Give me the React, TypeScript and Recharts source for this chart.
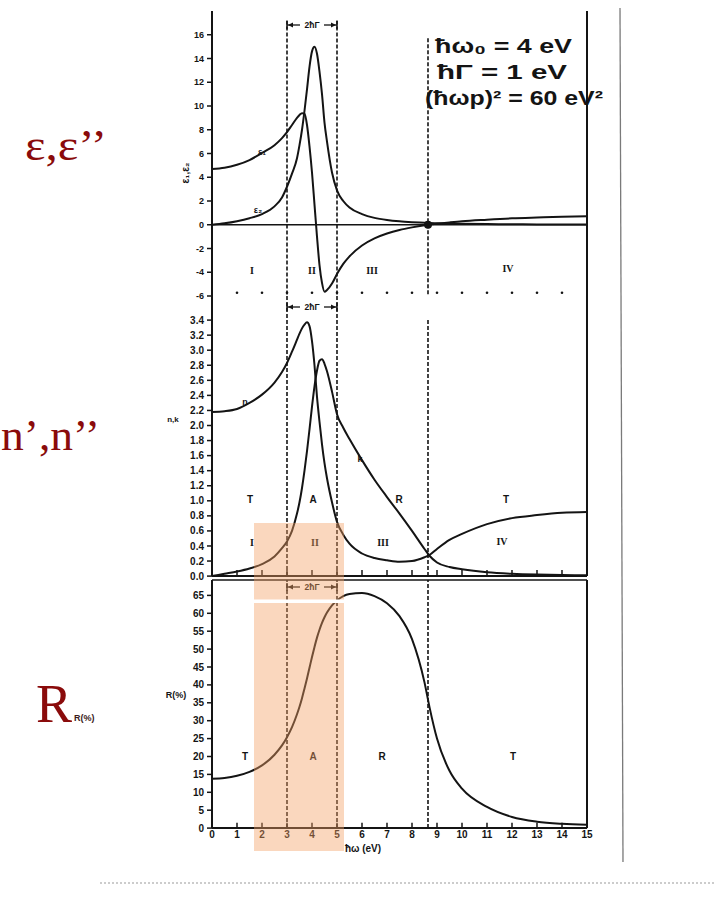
import React from 'react';
import { LineChart, Line, XAxis, YAxis, ReferenceLine, ReferenceDot } from 'recharts';

// photon energy ħω (eV)
const energy = [0, 0.5, 1, 1.5, 2, 2.5, 2.8, 3, 3.2, 3.4, 3.5, 3.6, 3.7, 3.8, 3.9, 4, 4.1, 4.2, 4.3, 4.4, 4.5, 4.6, 4.8, 5, 5.25, 5.5, 6, 6.5, 7, 7.5, 8, 8.5, 8.7, 9, 9.5, 10, 11, 12, 13, 14, 15];
// ε1 (real part)
const eps1 = [4.7, 4.8, 5.05, 5.45, 6.05, 6.7, 7.3, 7.8, 8.4, 9.0, 9.25, 9.4, 9.35, 8.4, 6.6, 4.4, 1.7, -1.0, -3.4, -4.9, -5.65, -5.5, -4.95, -4.15, -3.3, -2.66, -1.75, -1.15, -0.74, -0.44, -0.22, -0.04, 0.02, 0.09, 0.2, 0.3, 0.43, 0.54, 0.61, 0.67, 0.71];
// ε2 (imaginary part)
const eps2 = [0, 0.12, 0.3, 0.55, 0.9, 1.55, 2.3, 3.2, 4.3, 5.6, 6.7, 8.0, 9.6, 11.4, 13.3, 14.6, 15.0, 14.4, 12.9, 11.0, 8.6, 7.0, 4.4, 2.9, 2.0, 1.45, 0.9, 0.58, 0.4, 0.29, 0.22, 0.17, 0.15, 0.13, 0.1, 0.08, 0.06, 0.04, 0.03, 0.03, 0.02];
// refractive index n
const nIdx = [2.18, 2.19, 2.22, 2.3, 2.41, 2.57, 2.71, 2.83, 2.98, 3.14, 3.22, 3.29, 3.34, 3.37, 3.32, 3.12, 2.8, 2.38, 2.05, 1.75, 1.5, 1.3, 0.98, 0.72, 0.55, 0.43, 0.3, 0.24, 0.21, 0.19, 0.2, 0.25, 0.28, 0.36, 0.48, 0.56, 0.69, 0.77, 0.81, 0.84, 0.85];
// extinction coefficient k
const kIdx = [0, 0.03, 0.06, 0.1, 0.16, 0.26, 0.37, 0.46, 0.6, 0.83, 0.98, 1.17, 1.4, 1.66, 1.95, 2.25, 2.52, 2.73, 2.86, 2.88, 2.82, 2.72, 2.45, 2.15, 1.97, 1.82, 1.54, 1.28, 1.05, 0.83, 0.6, 0.36, 0.27, 0.18, 0.12, 0.09, 0.05, 0.03, 0.02, 0.015, 0.01];
// reflectivity R (%)
const reflect = [13.8, 14.0, 14.6, 15.7, 17.5, 20.5, 23.1, 25.4, 28.2, 31.8, 33.9, 36.3, 39.0, 41.8, 44.8, 47.8, 50.6, 53.2, 55.4, 57.3, 58.9, 60.2, 62.2, 63.6, 64.8, 65.4, 65.7, 64.8, 62.8, 59.2, 52.8, 40.7, 33.8, 25.0, 16.0, 11.0, 5.9, 3.1, 1.8, 1.2, 0.9];

const topTicks = [-6, -4, -2, 0, 2, 4, 6, 8, 10, 12, 14, 16];
const midTicks = [0, 0.2, 0.4, 0.6, 0.8, 1.0, 1.2, 1.4, 1.6, 1.8, 2.0, 2.2, 2.4, 2.6, 2.8, 3.0, 3.2, 3.4];
const botTicks = [0, 5, 10, 15, 20, 25, 30, 35, 40, 45, 50, 55, 60, 65];
const xTicks = [0, 1, 2, 3, 4, 5, 6, 7, 8, 9, 10, 11, 12, 13, 14, 15];
const dotTicks = [1, 2, 3, 4, 5, 6, 7, 8, 9, 10, 11, 12, 13, 14];
const bandLo = 3;
const bandHi = 5;
const zeroCross = 8.64;

const data = energy.map((e, i) => ({ e, eps1: eps1[i], eps2: eps2[i], n: nIdx[i], k: kIdx[i], R: reflect[i] }));

const INK = '#141414';
const SANS = '"Liberation Sans", Arial, sans-serif';
const SERIF = '"Liberation Serif", "Times New Roman", serif';
const RED = '#8a0b0b';
const CW = 620;
const PAD = 8;
const MARGIN = { top: PAD, right: 33, bottom: PAD, left: 172 };
const X = (e: number) => 212 + 25 * e;

const tickStyle = { fontSize: 9, fontWeight: 700, fill: INK, fontFamily: SANS };
const tickStyle10 = { ...tickStyle, fontSize: 10 };
const dash = { stroke: INK, strokeWidth: 1.6, strokeDasharray: '4 2' };

function GammaBar({ y }: { y: number }) {
  const a = X(bandLo);
  const b = X(bandHi);
  const m = X((bandLo + bandHi) / 2);
  return (
    <g stroke={INK} fill={INK}>
      <line x1={a} y1={y - 4} x2={a} y2={y + 4} strokeWidth={1.5} />
      <line x1={b} y1={y - 4} x2={b} y2={y + 4} strokeWidth={1.5} />
      <line x1={a} y1={y} x2={m - 12} y2={y} strokeWidth={1.3} />
      <line x1={m + 12} y1={y} x2={b} y2={y} strokeWidth={1.3} />
      <path d={`M${a + 1},${y} l5,-2.5 l0,5 z`} stroke="none" />
      <path d={`M${b - 1},${y} l-5,-2.5 l0,5 z`} stroke="none" />
      <text x={m} y={y + 3} textAnchor="middle" fontSize={8.5} fontWeight={700} fontFamily={SANS} stroke="none">2ħΓ</text>
    </g>
  );
}

function Label({ x, y, t, size = 10, serif = false }: { x: number; y: number; t: string; size?: number; serif?: boolean }) {
  return (
    <text x={x} y={y} textAnchor="middle" dominantBaseline="central" fontSize={size} fontWeight={700}
      fontFamily={serif ? SERIF : SANS} fill={INK}>{t}</text>
  );
}

export default function App() {
  const topPlot = [11.25, 296.25];
  const midPlot = [295.9, 576];
  const botPlot = [579.6, 827.7];
  return (
    <div style={{ position: 'absolute', left: 0, top: 0, width: 714, height: 905, background: '#fff', overflow: 'hidden' }}>
      {/* Top panel: ε1, ε2 */}
      <div style={{ position: 'absolute', left: 0, top: topPlot[0] - PAD }}>
        <LineChart width={CW} height={topPlot[1] - topPlot[0] + 2 * PAD} data={data} margin={MARGIN}>
          <XAxis dataKey="e" type="number" domain={[0, 15]} hide />
          <YAxis type="number" domain={[-6, 18]} ticks={topTicks} width={40} interval={0}
            axisLine={{ stroke: INK, strokeWidth: 2 }} tickLine={{ stroke: INK, strokeWidth: 1.5 }} tickSize={5} tickMargin={3} tick={tickStyle} />
          <ReferenceLine y={0} stroke={INK} strokeWidth={1.6} />
          <ReferenceLine x={15} stroke={INK} strokeWidth={2} />
          <ReferenceLine segment={[{ x: bandLo, y: 17.2 }, { x: bandLo, y: -6 }]} {...dash} />
          <ReferenceLine segment={[{ x: bandHi, y: 17.2 }, { x: bandHi, y: -6 }]} {...dash} />
          <ReferenceLine segment={[{ x: zeroCross, y: 15.7 }, { x: zeroCross, y: -6 }]} {...dash} />
          {dotTicks.map((d) => (
            <ReferenceDot key={d} x={d} y={-5.73} r={1.3} fill={INK} stroke="none" />
          ))}
          <Line dataKey="eps1" type="monotone" dot={false} stroke={INK} strokeWidth={2} isAnimationActive={false} />
          <Line dataKey="eps2" type="monotone" dot={false} stroke={INK} strokeWidth={2} isAnimationActive={false} />
          <ReferenceDot x={zeroCross} y={0} r={4} fill={INK} stroke="none" />
        </LineChart>
      </div>

      {/* Middle panel: n, k */}
      <div style={{ position: 'absolute', left: 0, top: midPlot[0] - PAD }}>
        <LineChart width={CW} height={midPlot[1] - midPlot[0] + 2 * PAD} data={data} margin={MARGIN}>
          <XAxis dataKey="e" type="number" domain={[0, 15]} hide />
          <YAxis type="number" domain={[0, 3.72]} ticks={midTicks} width={40} interval={0}
            tickFormatter={(v: number) => v.toFixed(1)}
            axisLine={{ stroke: INK, strokeWidth: 2 }} tickLine={{ stroke: INK, strokeWidth: 1.5 }} tickSize={5} tickMargin={3} tick={tickStyle10} />
          <ReferenceLine y={0} stroke={INK} strokeWidth={2} />
          <ReferenceLine x={15} stroke={INK} strokeWidth={2} />
          {xTicks.slice(1, 15).map((d) => (
            <ReferenceLine key={d} segment={[{ x: d, y: 0 }, { x: d, y: 0.08 }]} stroke={INK} strokeWidth={1.5} />
          ))}
          <ReferenceLine x={bandLo} {...dash} />
          <ReferenceLine x={bandHi} {...dash} />
          <ReferenceLine segment={[{ x: zeroCross, y: 3.4 }, { x: zeroCross, y: 0 }]} {...dash} />
          <Line dataKey="n" type="monotone" dot={false} stroke={INK} strokeWidth={2} isAnimationActive={false} />
          <Line dataKey="k" type="monotone" dot={false} stroke={INK} strokeWidth={2} isAnimationActive={false} />
        </LineChart>
      </div>

      {/* Bottom panel: R(%) */}
      <div style={{ position: 'absolute', left: 0, top: botPlot[0] - PAD }}>
        <LineChart width={CW} height={botPlot[1] - botPlot[0] + PAD + 26} data={data} margin={{ ...MARGIN, bottom: 0 }}>
          <XAxis dataKey="e" type="number" domain={[0, 15]} ticks={xTicks} interval={0} height={26}
            axisLine={{ stroke: INK, strokeWidth: 2 }} tickLine={false} tickSize={0} tickMargin={3}
            tick={tickStyle10} />
          <YAxis type="number" domain={[0, 69.3]} ticks={botTicks} width={40} interval={0}
            axisLine={{ stroke: INK, strokeWidth: 2 }} tickLine={{ stroke: INK, strokeWidth: 1.5 }} tickSize={5} tickMargin={3} tick={tickStyle10} />
          <ReferenceLine y={69.3} stroke={INK} strokeWidth={1.5} />
          <ReferenceLine x={15} stroke={INK} strokeWidth={2} />
          {xTicks.slice(1, 15).map((d) => (
            <ReferenceLine key={d} segment={[{ x: d, y: 0 }, { x: d, y: 1.5 }]} stroke={INK} strokeWidth={1.5} />
          ))}
          <ReferenceLine x={bandLo} {...dash} />
          <ReferenceLine x={bandHi} {...dash} />
          <ReferenceLine x={zeroCross} {...dash} />
          <Line dataKey="R" type="monotone" dot={false} stroke={INK} strokeWidth={2} isAnimationActive={false} />
        </LineChart>
      </div>

      {/* annotations */}
      <svg width={714} height={905} style={{ position: 'absolute', left: 0, top: 0, pointerEvents: 'none' }}>
        <GammaBar y={25} />
        <GammaBar y={307} />
        <GammaBar y={587} />

        {/* region labels */}
        <Label x={252} y={270} t="I" serif />
        <Label x={312} y={270} t="II" serif />
        <Label x={372} y={270} t="III" serif />
        <Label x={508} y={268} t="IV" serif />
        <Label x={250} y={499} t="T" />
        <Label x={313} y={499} t="A" />
        <Label x={399} y={499} t="R" />
        <Label x={506} y={499} t="T" />
        <Label x={252} y={542} t="I" serif />
        <Label x={315} y={542} t="II" serif />
        <Label x={383} y={542} t="III" serif />
        <Label x={502} y={541} t="IV" serif />
        <Label x={245} y={756} t="T" />
        <Label x={313} y={756} t="A" />
        <Label x={382} y={756} t="R" />
        <Label x={513} y={756} t="T" />

        {/* curve labels */}
        <Label x={262} y={152} t="ε₁" size={9} />
        <Label x={258} y={210} t="ε₂" size={9} />
        <Label x={245} y={402} t="n" size={9} />
        <Label x={360} y={459} t="k" size={9} />

        {/* axis titles */}
        <text x={185} y={173} transform="rotate(-90 185 173)" textAnchor="middle" dominantBaseline="central" fontSize={10} fontWeight={700} fontFamily={SANS} fill={INK}>ε₁,ε₂</text>
        <Label x={173} y={419} t="n,k" size={8} />
        <Label x={176} y={695} t="R(%)" size={9} />
        <Label x={363} y={848} t="ħω (eV)" size={10} />

        {/* model parameters (handwritten in the original) */}
        <text x={435} y={53} fontSize={21} fontWeight={700} fontFamily={SANS} fill={INK} textLength={137} lengthAdjust="spacingAndGlyphs">ħω₀ = 4 eV</text>
        <text x={437} y={79} fontSize={21} fontWeight={700} fontFamily={SANS} fill={INK} textLength={130} lengthAdjust="spacingAndGlyphs">ħΓ = 1 eV</text>
        <text x={425} y={105} fontSize={21} fontWeight={700} fontFamily={SANS} fill={INK} textLength={178} lengthAdjust="spacingAndGlyphs">(ħωp)² = 60 eV²</text>

        {/* slide labels */}
        <text x={25} y={160} fontSize={44} fontFamily={SERIF} fill={RED} textLength={82} lengthAdjust="spacingAndGlyphs">ε,ε’’</text>
        <text x={1} y={450} fontSize={44} fontFamily={SERIF} fill={RED} textLength={99} lengthAdjust="spacingAndGlyphs">n’,n’’</text>
        <text x={36} y={722} fontSize={54} fontFamily={SERIF} fill={RED}>R</text>
        <text x={74} y={721} fontSize={9} fontWeight={700} fontFamily={SANS} fill="#3a1a1a">R(%)</text>

        {/* scan edges */}
        <line x1={620} y1={8} x2={623} y2={862} stroke="#7a7a7a" strokeWidth={1.3} />
        <line x1={100} y1={883} x2={714} y2={883} stroke="#9a9a9a" strokeWidth={1.2} strokeDasharray="2 2" />

        {/* highlight */}
        <rect x={254} y={523} width={90} height={328} fill="rgba(243,160,100,0.42)" />
        <rect x={254} y={599.5} width={90} height={3.5} fill="#fff" />
      </svg>
    </div>
  );
}
